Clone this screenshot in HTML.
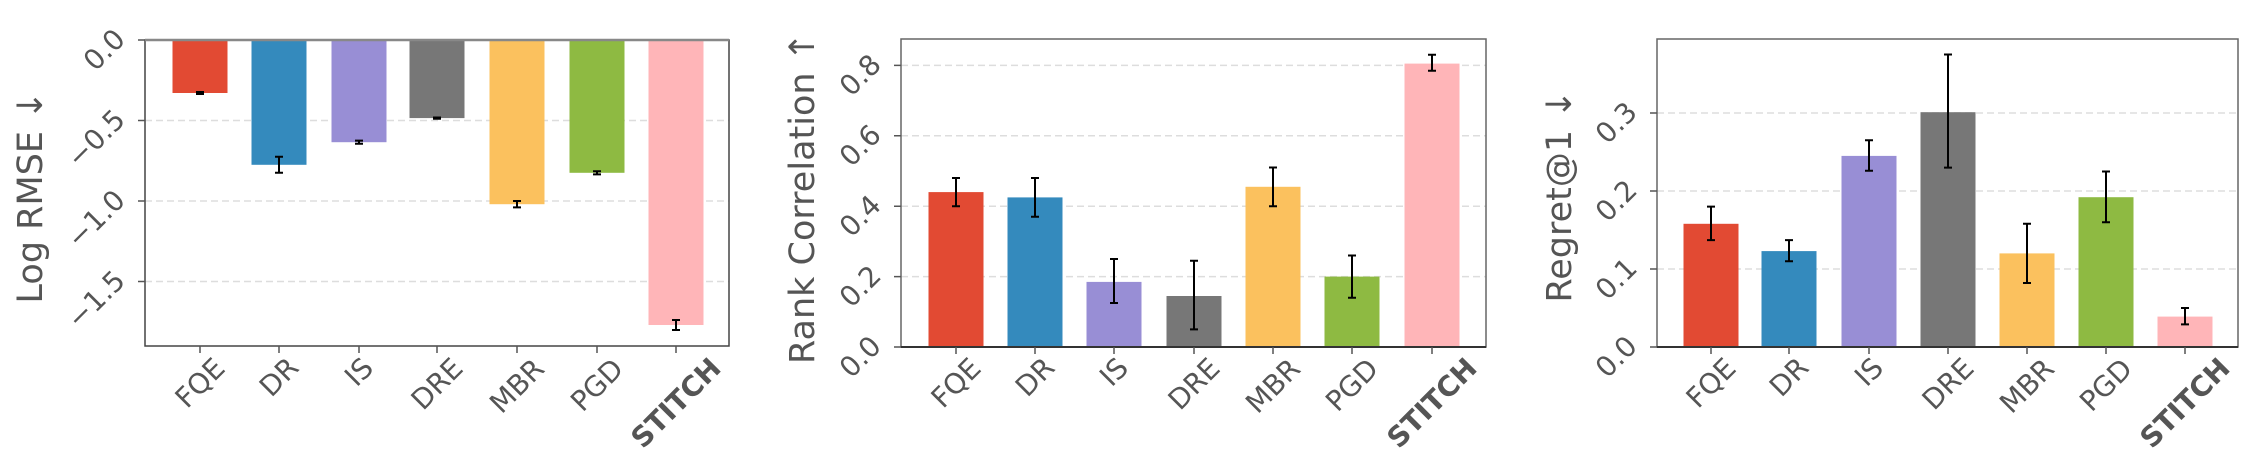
<!DOCTYPE html>
<html><head><meta charset="utf-8"><style>
html,body{margin:0;padding:0;background:#fff;}
svg{display:block;}
text{font-family:"DejaVu Sans","Liberation Sans",sans-serif;fill:#555;}
.t{font-size:28px;}
.b{font-weight:bold;}
.lab{font-size:35px;}
.g{stroke:#ddd;stroke-width:1.5;stroke-dasharray:7,4;}
.e{stroke:#000;stroke-width:2;fill:none;}
.k{stroke:#555;stroke-width:1.5;}
</style></head><body>
<svg width="2253" height="472" viewBox="0 0 2253 472" xmlns="http://www.w3.org/2000/svg">
<!-- Panel 1 -->
<g>
<line class="g" x1="145" y1="120.5" x2="729" y2="120.5"/>
<line class="g" x1="145" y1="201" x2="729" y2="201"/>
<line class="g" x1="145" y1="281.5" x2="729" y2="281.5"/>
<rect x="172.5" y="40" width="55" height="53" fill="#E24A33"/>
<rect x="251.5" y="40" width="55" height="124.8" fill="#348ABD"/>
<rect x="331.5" y="40" width="55" height="102.2" fill="#988ED5"/>
<rect x="409.5" y="40" width="55" height="78.1" fill="#777777"/>
<rect x="489.5" y="40" width="55" height="164.2" fill="#FBC15E"/>
<rect x="569.5" y="40" width="55" height="132.8" fill="#8EBA42"/>
<rect x="648.5" y="40" width="55" height="285" fill="#FFB5B8"/>
<path class="e" d="M200 92V94M196 92H204M196 94H204"/>
<path class="e" d="M279 156.7V172.8M275 156.7H283M275 172.8H283"/>
<path class="e" d="M359 140.6V143.8M355 140.6H363M355 143.8H363"/>
<path class="e" d="M437 117.5V118.7M433 117.5H441M433 118.7H441"/>
<path class="e" d="M517 201V207.4M513 201H521M513 207.4H521"/>
<path class="e" d="M597 171.2V174.4M593 171.2H601M593 174.4H601"/>
<path class="e" d="M676 320V330M672 320H680M672 330H680"/>
<rect x="145" y="40" width="584" height="306" fill="none" stroke="#444" stroke-width="1.5"/>
<line x1="145" y1="40" x2="729" y2="40" stroke="#888" stroke-width="2.5"/>
<path class="k" d="M138 40H145M138 120.5H145M138 201H145M138 281.5H145M200 346V353M279 346V353M359 346V353M437 346V353M517 346V353M597 346V353M676 346V353"/>
<text class="t" text-anchor="end" dominant-baseline="central" transform="rotate(-45 120 34)" x="120" y="34">0.0</text>
<text class="t" text-anchor="end" dominant-baseline="central" transform="rotate(-45 120 114.5)" x="120" y="114.5">−0.5</text>
<text class="t" text-anchor="end" dominant-baseline="central" transform="rotate(-45 120 195)" x="120" y="195">−1.0</text>
<text class="t" text-anchor="end" dominant-baseline="central" transform="rotate(-45 120 275.5)" x="120" y="275.5">−1.5</text>
<text class="lab" text-anchor="middle" dominant-baseline="central" transform="rotate(-90 31 197)" x="31" y="197">Log RMSE ↓</text>
<text class="t" text-anchor="middle" dominant-baseline="central" transform="rotate(-45 200 383)" x="200" y="383">FQE</text>
<text class="t" text-anchor="middle" dominant-baseline="central" transform="rotate(-45 279 377)" x="279" y="377">DR</text>
<text class="t" text-anchor="middle" dominant-baseline="central" transform="rotate(-45 359 372)" x="359" y="372">IS</text>
<text class="t" text-anchor="middle" dominant-baseline="central" transform="rotate(-45 437 384)" x="437" y="384">DRE</text>
<text class="t" text-anchor="middle" dominant-baseline="central" transform="rotate(-45 517 386)" x="517" y="386">MBR</text>
<text class="t" text-anchor="middle" dominant-baseline="central" transform="rotate(-45 597 385)" x="597" y="385">PGD</text>
<text class="t b" text-anchor="middle" dominant-baseline="central" transform="rotate(-45 676 403)" x="676" y="403">STITCH</text>
</g>
<!-- Panel 2 -->
<g>
<line class="g" x1="901" y1="276.6" x2="1486" y2="276.6"/>
<line class="g" x1="901" y1="206.2" x2="1486" y2="206.2"/>
<line class="g" x1="901" y1="135.8" x2="1486" y2="135.8"/>
<line class="g" x1="901" y1="65.4" x2="1486" y2="65.4"/>
<rect x="928.5" y="192.1" width="55" height="154.9" fill="#E24A33"/>
<rect x="1007.5" y="197.4" width="55" height="149.6" fill="#348ABD"/>
<rect x="1086.5" y="281.9" width="55" height="65.1" fill="#988ED5"/>
<rect x="1166.5" y="296" width="55" height="51" fill="#777777"/>
<rect x="1245.5" y="186.8" width="55" height="160.2" fill="#FBC15E"/>
<rect x="1324.5" y="276.6" width="55" height="70.4" fill="#8EBA42"/>
<rect x="1404.5" y="63.6" width="55" height="283.4" fill="#FFB5B8"/>
<path class="e" d="M956 178V206.2M952 178H960M952 206.2H960"/>
<path class="e" d="M1035 178V216.8M1031 178H1039M1031 216.8H1039"/>
<path class="e" d="M1114 259V303M1110 259H1118M1110 303H1118"/>
<path class="e" d="M1194 260.8V329.4M1190 260.8H1198M1190 329.4H1198"/>
<path class="e" d="M1273 167.5V206.2M1269 167.5H1277M1269 206.2H1277"/>
<path class="e" d="M1352 255.5V297.7M1348 255.5H1356M1348 297.7H1356"/>
<path class="e" d="M1432 54.8V70.7M1428 54.8H1436M1428 70.7H1436"/>
<rect x="901" y="39" width="585" height="308" fill="none" stroke="#666" stroke-width="1.5"/>
<line x1="901" y1="347" x2="1486" y2="347" stroke="#333" stroke-width="2"/>
<path class="k" d="M894 347H901M894 276.6H901M894 206.2H901M894 135.8H901M894 65.4H901M956 347V354M1035 347V354M1114 347V354M1194 347V354M1273 347V354M1352 347V354M1432 347V354"/>
<text class="t" text-anchor="end" dominant-baseline="central" transform="rotate(-45 876 341)" x="876" y="341">0.0</text>
<text class="t" text-anchor="end" dominant-baseline="central" transform="rotate(-45 876 270.6)" x="876" y="270.6">0.2</text>
<text class="t" text-anchor="end" dominant-baseline="central" transform="rotate(-45 876 200.2)" x="876" y="200.2">0.4</text>
<text class="t" text-anchor="end" dominant-baseline="central" transform="rotate(-45 876 129.8)" x="876" y="129.8">0.6</text>
<text class="t" text-anchor="end" dominant-baseline="central" transform="rotate(-45 876 59.4)" x="876" y="59.4">0.8</text>
<text class="lab" text-anchor="middle" dominant-baseline="central" transform="rotate(-90 803 198)" x="803" y="198">Rank Correlation ↑</text>
<text class="t" text-anchor="middle" dominant-baseline="central" transform="rotate(-45 956 383)" x="956" y="383">FQE</text>
<text class="t" text-anchor="middle" dominant-baseline="central" transform="rotate(-45 1035 377)" x="1035" y="377">DR</text>
<text class="t" text-anchor="middle" dominant-baseline="central" transform="rotate(-45 1114 372)" x="1114" y="372">IS</text>
<text class="t" text-anchor="middle" dominant-baseline="central" transform="rotate(-45 1194 384)" x="1194" y="384">DRE</text>
<text class="t" text-anchor="middle" dominant-baseline="central" transform="rotate(-45 1273 386)" x="1273" y="386">MBR</text>
<text class="t" text-anchor="middle" dominant-baseline="central" transform="rotate(-45 1352 385)" x="1352" y="385">PGD</text>
<text class="t b" text-anchor="middle" dominant-baseline="central" transform="rotate(-45 1432 403)" x="1432" y="403">STITCH</text>
</g>
<!-- Panel 3 -->
<g>
<line class="g" x1="1657" y1="269" x2="2238" y2="269"/>
<line class="g" x1="1657" y1="191" x2="2238" y2="191"/>
<line class="g" x1="1657" y1="113" x2="2238" y2="113"/>
<rect x="1683.5" y="223.8" width="55" height="123.2" fill="#E24A33"/>
<rect x="1761.5" y="251.1" width="55" height="95.9" fill="#348ABD"/>
<rect x="1841.5" y="155.9" width="55" height="191.1" fill="#988ED5"/>
<rect x="1920.5" y="112.2" width="55" height="234.8" fill="#777777"/>
<rect x="1999.5" y="253.4" width="55" height="93.6" fill="#FBC15E"/>
<rect x="2078.5" y="197.2" width="55" height="149.8" fill="#8EBA42"/>
<rect x="2157.5" y="316.6" width="55" height="30.4" fill="#FFB5B8"/>
<path class="e" d="M1711 206.6V240.1M1707 206.6H1715M1707 240.1H1715"/>
<path class="e" d="M1789 240.1V261.2M1785 240.1H1793M1785 261.2H1793"/>
<path class="e" d="M1869 140.3V170.7M1865 140.3H1873M1865 170.7H1873"/>
<path class="e" d="M1948 54.5V167.6M1944 54.5H1952M1944 167.6H1952"/>
<path class="e" d="M2027 223.8V283M2023 223.8H2031M2023 283H2031"/>
<path class="e" d="M2106 171.5V222.2M2102 171.5H2110M2102 222.2H2110"/>
<path class="e" d="M2185 308V324.4M2181 308H2189M2181 324.4H2189"/>
<rect x="1657" y="39" width="581" height="308" fill="none" stroke="#666" stroke-width="1.5"/>
<line x1="1657" y1="347" x2="2238" y2="347" stroke="#333" stroke-width="2"/>
<path class="k" d="M1650 347H1657M1650 269H1657M1650 191H1657M1650 113H1657M1711 347V354M1789 347V354M1869 347V354M1948 347V354M2027 347V354M2106 347V354M2185 347V354"/>
<text class="t" text-anchor="end" dominant-baseline="central" transform="rotate(-45 1632 341)" x="1632" y="341">0.0</text>
<text class="t" text-anchor="end" dominant-baseline="central" transform="rotate(-45 1632 263)" x="1632" y="263">0.1</text>
<text class="t" text-anchor="end" dominant-baseline="central" transform="rotate(-45 1632 185)" x="1632" y="185">0.2</text>
<text class="t" text-anchor="end" dominant-baseline="central" transform="rotate(-45 1632 107)" x="1632" y="107">0.3</text>
<text class="lab" text-anchor="middle" dominant-baseline="central" transform="rotate(-90 1560 196)" x="1560" y="196">Regret@1 ↓</text>
<text class="t" text-anchor="middle" dominant-baseline="central" transform="rotate(-45 1711 383)" x="1711" y="383">FQE</text>
<text class="t" text-anchor="middle" dominant-baseline="central" transform="rotate(-45 1789 377)" x="1789" y="377">DR</text>
<text class="t" text-anchor="middle" dominant-baseline="central" transform="rotate(-45 1869 372)" x="1869" y="372">IS</text>
<text class="t" text-anchor="middle" dominant-baseline="central" transform="rotate(-45 1948 384)" x="1948" y="384">DRE</text>
<text class="t" text-anchor="middle" dominant-baseline="central" transform="rotate(-45 2027 386)" x="2027" y="386">MBR</text>
<text class="t" text-anchor="middle" dominant-baseline="central" transform="rotate(-45 2106 385)" x="2106" y="385">PGD</text>
<text class="t b" text-anchor="middle" dominant-baseline="central" transform="rotate(-45 2185 403)" x="2185" y="403">STITCH</text>
</g>
</svg>
</body></html>
